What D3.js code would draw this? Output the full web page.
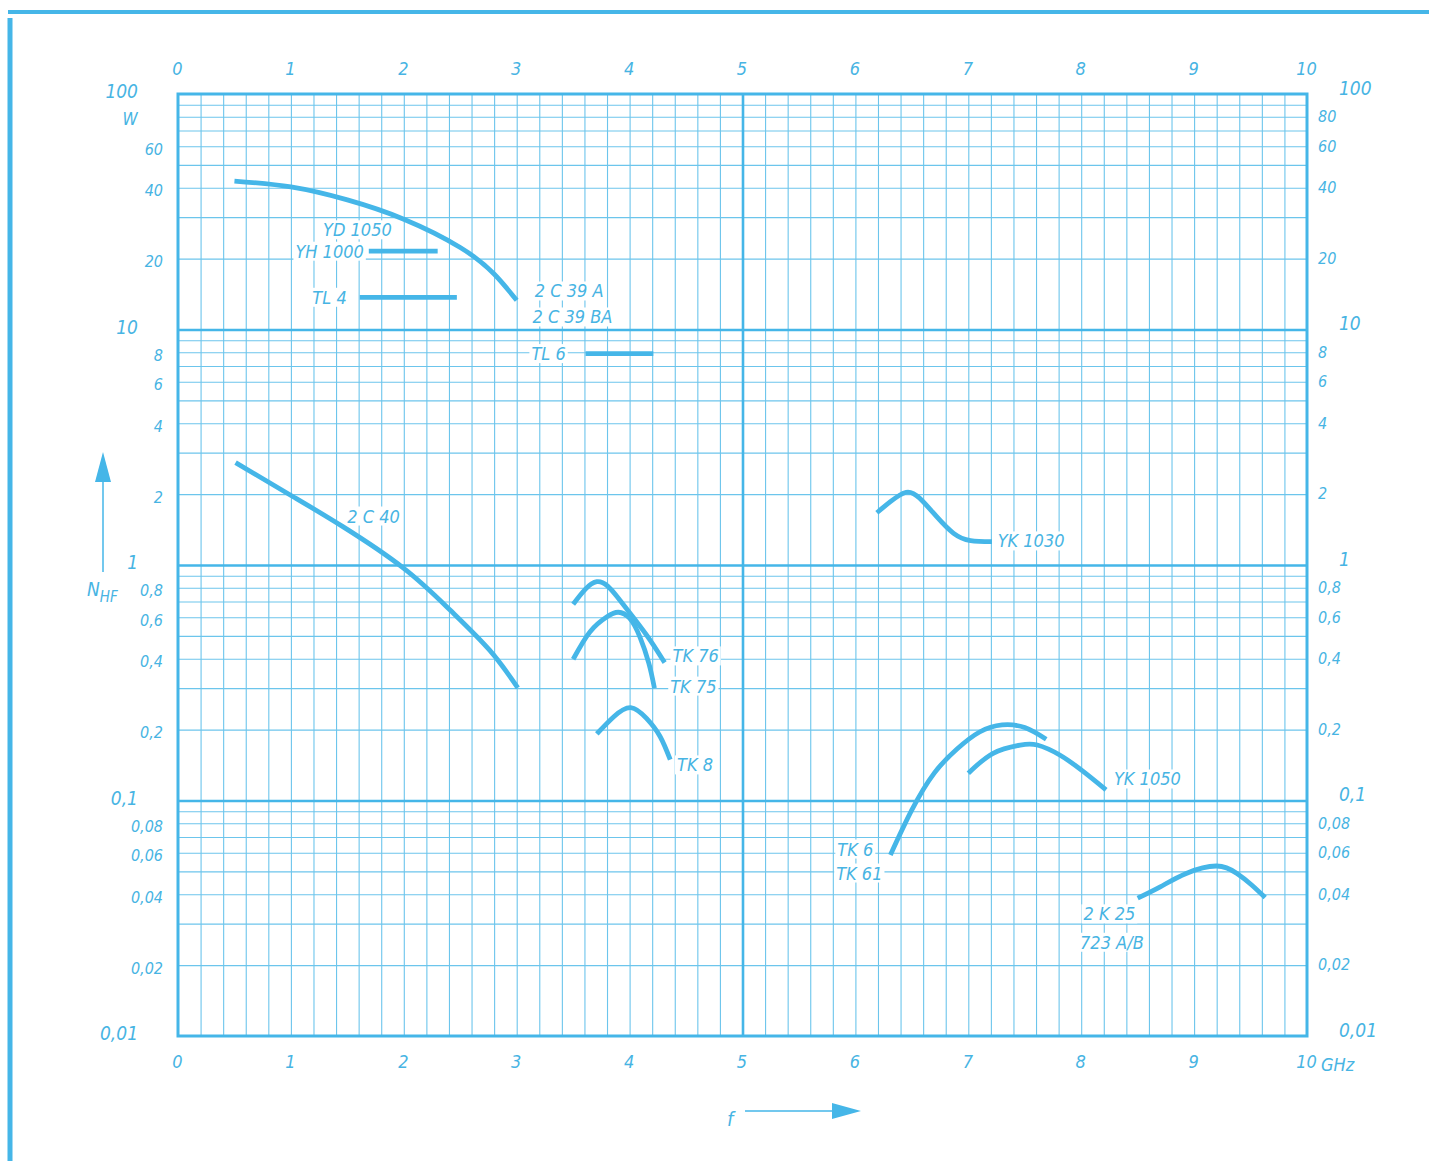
<!DOCTYPE html>
<html><head><meta charset="utf-8">
<script src="https://cdn.jsdelivr.net/npm/d3@7"></script>
<style>
html,body{margin:0;padding:0;background:#fff;}
text{font-family:"Liberation Sans Narrow","DejaVu Sans Condensed","Roboto Condensed",sans-serif;font-style:italic;fill:#47b4e3;}
</style></head>
<body><svg id="c" width="1429" height="1161"></svg>
<script>
// ---- data (GHz, N_HF in W) ----
const xTickLabels = [0,1,2,3,4,5,6,7,8,9,10];
const leftMinorTicks  = [60,40,20,8,6,4,2,0.8,0.6,0.4,0.2,0.08,0.06,0.04,0.02];
const rightMinorTicks = [80,60,40,20,8,6,4,2,0.8,0.6,0.4,0.2,0.08,0.06,0.04,0.02];
const decadeTicks = [100,10,1,0.1,0.01];

const c2C39A_f = [0.50,1.00,1.50,2.00,2.50,2.80,3.00];
const c2C39A_p = [42.7,40.3,35.5,29.4,22.3,17.2,13.3];
const cYH1000_f = [1.69,2.30];
const cYH1000_p = [21.5,21.5];
const cTL4_f = [1.61,2.47];
const cTL4_p = [13.7,13.7];
const cTL6_f = [3.61,4.21];
const cTL6_p = [7.9,7.9];
const c2C40_f = [0.51,1.02,1.46,2.00,2.41,2.76,3.01];
const c2C40_p = [2.72,1.95,1.455,0.968,0.644,0.435,0.301];
const cTK76_f = [3.50,3.71,3.89,4.03,4.18,4.31];
const cTK76_p = [0.681,0.849,0.733,0.601,0.481,0.385];
const cTK75_f = [3.50,3.65,3.80,3.90,4.00,4.09,4.17,4.22];
const cTK75_p = [0.398,0.521,0.603,0.630,0.594,0.496,0.383,0.300];
const cTK8_f = [3.71,3.86,4.01,4.15,4.27,4.36];
const cTK8_p = [0.192,0.227,0.248,0.223,0.187,0.149];
const cYK1030_f = [6.19,6.31,6.45,6.57,6.72,6.87,7.02,7.21];
const cYK1030_p = [1.667,1.857,2.037,1.92,1.604,1.363,1.269,1.256];
const cTK6_f = [6.31,6.50,6.70,6.90,7.10,7.30,7.50,7.69];
const cTK6_p = [0.0587,0.0912,0.131,0.1655,0.1954,0.2094,0.204,0.182];
const cYK1050_f = [7.00,7.22,7.46,7.61,7.81,8.02,8.22];
const cYK1050_p = [0.1305,0.1587,0.172,0.172,0.156,0.1326,0.111];
const c2K25_f = [8.50,8.70,8.93,9.20,9.38,9.51,9.63];
const c2K25_p = [0.0385,0.043,0.049,0.0527,0.049,0.0438,0.0387];

const curveLabels = [
 {t:"YD 1050", f:1.285, p:26.5},
 {t:"YH 1000", f:1.04, p:21.5},
 {t:"TL 4", f:1.19, p:13.7},
 {t:"2 C 39 A", f:3.16, p:14.57},
 {t:"2 C 39 BA", f:3.14, p:11.3},
 {t:"TL 6", f:3.13, p:7.9},
 {t:"2 C 40", f:1.50, p:1.614},
 {t:"TK 76", f:4.38, p:0.411},
 {t:"TK 75", f:4.36, p:0.306},
 {t:"TK 8", f:4.42, p:0.1416},
 {t:"YK 1030", f:7.26, p:1.265},
 {t:"YK 1050", f:8.29, p:0.1234},
 {t:"TK 6", f:5.84, p:0.0622},
 {t:"TK 61", f:5.83, p:0.0492},
 {t:"2 K 25", f:8.02, p:0.033},
 {t:"723 A/B", f:7.99, p:0.025}
];

const series = [
 [c2C39A_f,c2C39A_p],[cYH1000_f,cYH1000_p],[cTL4_f,cTL4_p],[cTL6_f,cTL6_p],
 [c2C40_f,c2C40_p],[cTK76_f,cTK76_p],[cTK75_f,cTK75_p],[cTK8_f,cTK8_p],
 [cYK1030_f,cYK1030_p],[cTK6_f,cTK6_p],[cYK1050_f,cYK1050_p],[c2K25_f,c2K25_p]
];

// ---- drawing ----
const svg = d3.select("#c");
const blue = "#45b6e8", gridC = "#6cc5ec";
const L=178,R=1307,T=94,B=1036;
const x = d3.scaleLinear([0,10],[L,R]);
const y = d3.scaleLog([0.01,100],[B,T]);

// page frame
svg.append("line").attr("x1",8).attr("x2",1429).attr("y1",12).attr("y2",12).attr("stroke",blue).attr("stroke-width",4);
svg.append("line").attr("x1",10).attr("x2",10).attr("y1",18).attr("y2",1161).attr("stroke",blue).attr("stroke-width",5);

// minor grid
const minorX = d3.range(0,50).map(i=>i*0.2).filter(v=>v>0);
const minorY = [];
[0.01,0.1,1,10].forEach(d=>{for(let k=2;k<=9;k++) minorY.push(+(d*k).toPrecision(3));});

const gx = svg.append("g").attr("transform",`translate(0,${B})`)
 .call(d3.axisBottom(x).tickValues(minorX).tickSize(-(B-T)).tickFormat(""));
gx.select(".domain").remove();
gx.selectAll("line").attr("stroke",gridC).attr("stroke-width",1.1);
const gy = svg.append("g").attr("transform",`translate(${L},0)`)
 .call(d3.axisLeft(y).tickValues(minorY).tickSize(-(R-L)).tickFormat(""));
gy.select(".domain").remove();
gy.selectAll("line").attr("stroke",gridC).attr("stroke-width",1.1);

// major grid
const gxM = svg.append("g").attr("transform",`translate(0,${B})`)
 .call(d3.axisBottom(x).tickValues([5]).tickSize(-(B-T)).tickFormat(""));
gxM.select(".domain").remove();
gxM.selectAll("line").attr("stroke",blue).attr("stroke-width",2.6);
const gyM = svg.append("g").attr("transform",`translate(${L},0)`)
 .call(d3.axisLeft(y).tickValues([10,1,0.1]).tickSize(-(R-L)).tickFormat(""));
gyM.select(".domain").remove();
gyM.selectAll("line").attr("stroke",blue).attr("stroke-width",2.6);

svg.append("rect").attr("x",L).attr("y",T).attr("width",R-L).attr("height",B-T)
 .attr("fill","none").attr("stroke",blue).attr("stroke-width",3);

const fmt = d => String(d).replace(".",",");

// axis labels
function labelAxis(axis, tx, ty, vals, size, anchor, dx, dy, f){
  const g = svg.append("g").attr("transform",`translate(${tx},${ty})`)
    .call(axis.tickValues(vals).tickSize(0).tickFormat(f||fmt));
  g.select(".domain").remove();
  g.selectAll("text").attr("font-size",size).attr("text-anchor",anchor)
    .attr("dx",dx).attr("dy",dy).attr("fill","#47b4e3")
    .style("font-family",null);
  return g;
}
labelAxis(d3.axisTop(x), 0, 78, xTickLabels, 18, "middle", -1, 0);
labelAxis(d3.axisBottom(x), 0, 1052, xTickLabels, 18, "middle", -1, "0.71em");
svg.append("text").attr("x",x(10)+14).attr("y",1071).attr("font-size",18).text("GHz");

labelAxis(d3.axisLeft(y), 166, 0, leftMinorTicks, 16, "end", 0, "0.5em");
labelAxis(d3.axisLeft(y), 141, 0, decadeTicks, 19, "end", 0, "0.2em");
labelAxis(d3.axisRight(y), 1315, 0, rightMinorTicks, 16, "start", 0, "0.3em");
labelAxis(d3.axisRight(y), 1336, 0, decadeTicks, 19, "start", 0, "0.0em");
svg.append("text").attr("x",130).attr("y",125).attr("font-size",17).attr("text-anchor","middle").text("W");

// curve labels with white knock-out (drawn under curves)
curveLabels.forEach(l=>{
  const g = svg.append("g");
  const t = g.append("text").attr("x",x(l.f)).attr("y",y(l.p)).attr("dy","0.36em")
    .attr("font-size",18).attr("text-anchor","start").text(l.t);
  const bb = t.node().getBBox();
  g.insert("rect","text").attr("x",bb.x-2).attr("y",bb.y+1).attr("width",bb.width+4).attr("height",bb.height-2).attr("fill","#fff");
});

// curves
const line = d3.line().x(d=>x(d[0])).y(d=>y(d[1])).curve(d3.curveNatural);
series.forEach(([fs,ps])=>{
  svg.append("path").datum(fs.map((f,i)=>[f,ps[i]])).attr("d",line)
   .attr("fill","none").attr("stroke",blue).attr("stroke-width",4.8).attr("stroke-linecap","butt");
});

// N_HF axis title and arrow
svg.append("line").attr("x1",103).attr("x2",103).attr("y1",572).attr("y2",480).attr("stroke",blue).attr("stroke-width",1.5);
svg.append("path").attr("d","M103,452 L95,482 L111,482 Z").attr("fill",blue);
const nt = svg.append("text").attr("x",87).attr("y",596).attr("font-size",19);
nt.append("tspan").text("N");
nt.append("tspan").attr("dy",6).attr("font-size",15).text("HF");

// f title and arrow
svg.append("text").attr("x",727).attr("y",1126).attr("font-size",20).text("f");
svg.append("line").attr("x1",745).attr("x2",835).attr("y1",1111).attr("y2",1111).attr("stroke",blue).attr("stroke-width",1.5);
svg.append("path").attr("d","M861,1111 L832,1103 L832,1119 Z").attr("fill",blue);
</script></body></html>
